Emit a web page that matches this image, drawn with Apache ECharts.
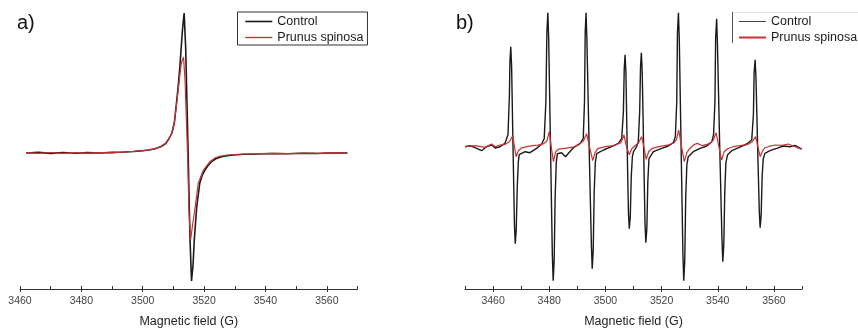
<!DOCTYPE html>
<html><head><meta charset="utf-8">
<script src="https://cdn.jsdelivr.net/npm/echarts@6/dist/echarts.min.js"></script>
<style>html,body{margin:0;padding:0;background:#fff}#c{width:858px;height:328px}</style>
</head><body><div id="c"></div>
<script>
// ---- data (magnetic field G, signal in arbitrary units) ----
const controlA = [[3462,0],[3466,0.6],[3470,-0.4],[3474,0.5],[3478,-0.3],[3482,0.4],[3486,0],[3490,0.6],[3494,1],[3497,1.5],[3500,2.3],[3502,3],[3504,4.2],[3506,6.5],[3507.5,9.5],[3508.5,14],[3509.5,20],[3510.3,30],[3511,50],[3511.6,68],[3512.1,86],[3512.6,108],[3513,125],[3513.5,140],[3514,105],[3514.8,0],[3515.4,-85],[3515.9,-128],[3516.4,-112],[3516.8,-87],[3517.6,-54],[3518.6,-30],[3519.4,-22],[3520.3,-17],[3521.3,-12.5],[3522.4,-8.7],[3524,-5.5],[3525.7,-3.7],[3527.5,-2.7],[3529.5,-2],[3533,-1.3],[3537,-1],[3542,-0.5],[3547,-0.8],[3552,-0.3],[3557,-0.5],[3562,0.2],[3566.7,0]];
const prunusA = [[3462,0.3],[3466,-0.3],[3470,0.5],[3474,-0.4],[3478,0.4],[3482,-0.2],[3486,0.5],[3490,0.2],[3494,1],[3497,1.6],[3500,2.4],[3502,3],[3504,4.2],[3506,6.5],[3507.5,9.5],[3508.5,14],[3509.5,20],[3510.3,30],[3511,48],[3511.6,64],[3512.1,78],[3512.6,90],[3513.3,96],[3513.8,72],[3514.6,0],[3515.1,-60],[3515.6,-87],[3516.2,-73],[3517.1,-54],[3518.1,-30],[3519.8,-17],[3521.9,-8.7],[3523.5,-5],[3525,-3.3],[3527.5,-2],[3530,-1.5],[3534,-1],[3538,-0.6],[3543,-0.3],[3548,-0.6],[3553,0],[3558,-0.4],[3562,0.3],[3566.7,0]];
const controlB = [[3450,0],[3451.8,1],[3454.2,-1.7],[3455.9,-4],[3457.7,0],[3459.5,1.7],[3460.7,-1.3],[3462.5,0],[3464.2,3.3],
  [3465.3,12],[3465.8,50],[3466,85],[3466.3,100],[3466.6,80],[3467.1,0],[3467.6,-78],[3467.9,-97],[3468.25,-82],[3468.6,-40],[3469,-15],[3469.3,-8],
  [3471.4,-5],[3473.1,-6],[3475.5,-1.7],[3477.3,2.7],
  [3478.2,8],[3478.8,45],[3479.15,114],[3479.5,134],[3479.8,108],[3480.45,0],[3481.1,-108],[3481.4,-134],[3481.75,-114],[3482.1,-50],[3482.5,-16],[3482.9,-7],
  [3484.4,-6],[3485.8,-10],[3487,-6],[3488.6,-1],[3491,3.3],
  [3492.1,8],[3492.55,45],[3492.8,114],[3493.1,134],[3493.4,108],[3494.2,0],[3495,-98],[3495.3,-122],[3495.65,-104],[3496,-45],[3496.4,-16],[3496.9,-7],
  [3499.3,-3.3],[3502.2,0],[3504.6,3.3],
  [3505.8,8],[3506.4,35],[3506.7,78],[3507,92],[3507.3,74],[3507.75,0],[3508.2,-66],[3508.5,-82],[3508.85,-70],[3509.2,-30],[3509.6,-10],[3510,-5],
  [3511.1,0],
  [3511.7,5],[3512.2,35],[3512.5,80],[3512.8,94],[3513.1,75],[3513.6,0],[3514.1,-77],[3514.4,-96],[3514.75,-82],[3515.1,-35],[3515.5,-12],
  [3517.1,-5],[3520,-1.7],[3522.4,0.7],[3524.2,4],
  [3524.9,10],[3525.4,45],[3525.65,114],[3526,134],[3526.3,108],[3526.95,0],[3527.6,-108],[3527.9,-134],[3528.25,-114],[3528.6,-50],[3529,-18],[3529.5,-10],
  [3531.3,-5],[3533.7,-1.7],[3536.1,0.7],[3537.9,5],
  [3538.5,12],[3539,45],[3539.25,109],[3539.6,128],[3539.9,102],[3540.7,0],[3541.5,-92],[3541.8,-115],[3542.15,-98],[3542.5,-45],[3542.9,-16],[3543.5,-8],
  [3545,-4],[3547.5,-1],[3550.3,2.7],
  [3552.1,6.7],[3552.7,32],[3552.95,74],[3553.3,87],[3553.6,70],[3554.2,0],[3554.8,-65],[3555.1,-81],[3555.45,-69],[3555.8,-30],[3556.2,-12],[3556.8,-6.7],
  [3558.6,-4],[3561,-1.7],[3563.4,0.7],[3565.7,0],[3567.5,1.3],[3569.9,-2.3]];
const prunusB = [[3450,0],[3453.6,1],[3457.1,-0.7],[3459.5,2.7],[3460.7,0],[3462.5,1.7],[3464.2,2.3],[3465.8,5],[3467,11],[3467.6,0],[3468.2,-10],[3469,-4],[3470,-1.5],[3472,0],[3474,1],[3476,1.5],[3478,3],[3479.2,6],[3480,15],[3480.7,0],[3481.5,-15],[3482.3,-5],[3483.3,-2.5],[3486,-1.5],[3488.5,-0.5],[3490.5,2],[3492.2,6],[3493.3,13],[3494.3,0],[3495.5,-14],[3496.3,-6],[3497.3,-2],[3500,0],[3503,1],[3505.5,4],[3506.6,11.7],[3507.5,0],[3508.5,-8],[3509.4,-2],[3510.5,1],[3511.8,4],[3512.9,10],[3513.7,0],[3514.5,-12.7],[3515.4,-5],[3516.5,-2],[3519,0],[3522,1.5],[3524.5,4],[3525.3,7],[3526.1,16.7],[3527.1,0],[3528.1,-15],[3529,-6],[3530,-2],[3531.5,2],[3532.7,3.3],[3534.5,1],[3536.5,2.5],[3538.3,6],[3539.4,14],[3540.4,0],[3541.4,-13.3],[3542.3,-5],[3543.5,-2],[3545.5,0],[3548,1],[3550.5,2],[3552.3,5],[3553.5,10],[3554.3,0],[3555.1,-10],[3556,-4],[3556.8,-1],[3558.5,0.5],[3560.4,1.7],[3562.8,1.3],[3565.1,2.7],[3567.5,0],[3569.9,-2.7]];
const labelTicksA = [3460, 3480, 3500, 3520, 3540, 3560];
const labelTicksB = [3460, 3480, 3500, 3520, 3540, 3560];
const rangeA = [3460, 3570];
const rangeB = [3450, 3570];
const seriesNames = ['Control', 'Prunus spinosa'];
const panelTags = ['a)', 'b)'];
const axisTitle = 'Magnetic field (G)';

// ---- styling / layout ----
const FONT = '"Liberation Sans", Arial, sans-serif';
const BLACK = '#1a1a1a';
const RED = '#c83232';
const AXIS = '#333';

function mainX(gridIndex, range, ticks) {
  return {
    type: 'value', gridIndex, min: range[0], max: range[1],
    axisLine: { show: true, onZero: false, lineStyle: { color: AXIS, width: 1 } },
    axisTick: { show: true, customValues: ticks, length: 3, inside: false, lineStyle: { color: AXIS } },
    axisLabel: { show: true, customValues: ticks, margin: 7, fontSize: 10.5, color: '#444', fontFamily: FONT,
                 formatter: v => String(v) },
    splitLine: { show: false },
    name: axisTitle, nameLocation: 'middle', nameGap: 26,
    nameTextStyle: { fontSize: 12.5, color: '#222', fontFamily: FONT }
  };
}
function tickX(gridIndex, range) {
  return {
    type: 'value', gridIndex, min: range[0], max: range[1], interval: 10,
    axisLine: { show: false, onZero: false },
    axisTick: { show: true, inside: true, length: 3, lineStyle: { color: AXIS } },
    axisLabel: { show: false }, splitLine: { show: false }
  };
}
function hiddenY(gridIndex, min, max) {
  return { type: 'value', gridIndex, min, max, show: false };
}
function grid(left, width) {
  return { left, top: 5, width, height: 284, containLabel: false, outerBoundsMode: 'none' };
}

const chart = echarts.init(document.getElementById('c'), null, { renderer: 'canvas' });
chart.setOption({
  animation: false,
  backgroundColor: '#fff',
  title: [
    { text: panelTags[0], left: 17, top: 13, padding: 0, textStyle: { fontSize: 20, fontWeight: 'normal', color: '#111', fontFamily: FONT } },
    { text: panelTags[1], left: 456, top: 13, padding: 0, textStyle: { fontSize: 20, fontWeight: 'normal', color: '#111', fontFamily: FONT } }
  ],
  grid: [grid(20, 337.5), grid(20, 337.5), grid(465, 337), grid(465, 337)],
  xAxis: [
    mainX(0, rangeA, labelTicksA),
    tickX(1, rangeA),
    mainX(2, rangeB, labelTicksB),
    tickX(3, rangeB)
  ],
  yAxis: [
    hiddenY(0, -136, 148), hiddenY(1, -136, 148),
    hiddenY(2, -142.3, 141.7), hiddenY(3, -142.3, 141.7)
  ],
  legend: [
    {
      orient: 'vertical', left: 237.5, top: 12, padding: [3, 4, 1, 7],
      itemWidth: 27, itemHeight: 12, itemGap: 3, itemStyle: { opacity: 0 },
      borderColor: '#333', borderWidth: 1, selectedMode: false,
      textStyle: { fontSize: 12.5, color: '#1a1a1a', fontFamily: FONT, lineHeight: 12 },
      data: [
        { name: seriesNames[0], lineStyle: { color: BLACK, width: 1.6 } },
        { name: seriesNames[1], lineStyle: { color: RED, width: 1.4 } }
      ]
    },
    {
      orient: 'vertical', left: 738, top: 12, padding: [3, 0, 1, 0],
      itemWidth: 27, itemHeight: 12, itemGap: 3, itemStyle: { opacity: 0 }, selectedMode: false,
      textStyle: { fontSize: 12.5, color: '#1a1a1a', fontFamily: FONT, lineHeight: 12 },
      data: [
        { name: seriesNames[0], lineStyle: { color: '#444', width: 1 } },
        { name: seriesNames[1], lineStyle: { color: RED, width: 2 } }
      ]
    }
  ],
  graphic: [
    { type: 'line', shape: { x1: 732.5, y1: 12, x2: 732.5, y2: 43 }, style: { stroke: '#555', lineWidth: 1 } },
    { type: 'line', shape: { x1: 733, y1: 12.5, x2: 858, y2: 12.5 }, style: { stroke: '#e2e2e2', lineWidth: 1 } }
  ],
  series: [
    { name: seriesNames[0], type: 'line', xAxisIndex: 0, yAxisIndex: 0, data: controlA, symbol: 'none', lineStyle: { color: BLACK, width: 1.6 }, itemStyle: { color: BLACK } },
    { name: seriesNames[1], type: 'line', xAxisIndex: 0, yAxisIndex: 0, data: prunusA, symbol: 'none', lineStyle: { color: RED, width: 1.2 }, itemStyle: { color: RED } },
    { name: seriesNames[0], type: 'line', xAxisIndex: 2, yAxisIndex: 2, data: controlB, symbol: 'none', lineStyle: { color: BLACK, width: 1.4 }, itemStyle: { color: BLACK } },
    { name: seriesNames[1], type: 'line', xAxisIndex: 2, yAxisIndex: 2, data: prunusB, symbol: 'none', lineStyle: { color: RED, width: 1.2 }, itemStyle: { color: RED } }
  ]
});
</script>
</body></html>
